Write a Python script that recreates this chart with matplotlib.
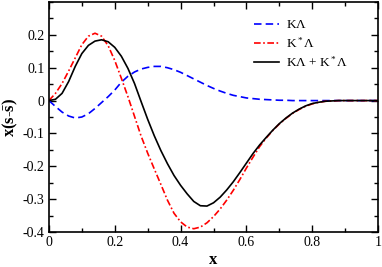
import matplotlib
matplotlib.use("Agg")
import matplotlib.pyplot as plt
from matplotlib.ticker import MultipleLocator

plt.rcParams['font.family'] = ['Liberation Serif', 'DejaVu Serif']
plt.rcParams['mathtext.fontset'] = 'custom'
plt.rcParams['mathtext.rm'] = 'Liberation Serif'
plt.rcParams['mathtext.bf'] = 'Liberation Serif:bold'
plt.rcParams['mathtext.it'] = 'Liberation Serif:italic'

x_vals = [0.00, 0.02, 0.04, 0.06, 0.08, 0.10, 0.12, 0.14, 0.16, 0.18,
          0.20, 0.22, 0.24, 0.26, 0.28, 0.30, 0.32, 0.34, 0.36, 0.38,
          0.40, 0.42, 0.44, 0.46, 0.48, 0.50, 0.52, 0.54, 0.56, 0.58,
          0.60, 0.62, 0.64, 0.66, 0.68, 0.70, 0.72, 0.74, 0.76, 0.78,
          0.80, 0.82, 0.84, 0.86, 0.88, 0.90, 0.95, 1.00]

k_lambda = [0.000, -0.018, -0.035, -0.047, -0.053, -0.050, -0.040, -0.024, -0.006, 0.012,
            0.032, 0.056, 0.074, 0.087, 0.096, 0.101, 0.104, 0.104, 0.100, 0.094,
            0.086, 0.076, 0.066, 0.056, 0.046, 0.037, 0.029, 0.022, 0.016, 0.012,
            0.008, 0.006, 0.004, 0.003, 0.002, 0.001, 0.001, 0.000, 0.000, 0.000,
            0.000, 0.000, 0.000, 0.000, 0.000, 0.000, 0.000, 0.000]

kstar_lambda = [0.000, 0.022, 0.052, 0.090, 0.130, 0.170, 0.196, 0.205, 0.196, 0.167,
                0.122, 0.068, 0.012, -0.048, -0.108, -0.160, -0.208, -0.255, -0.303, -0.343,
                -0.369, -0.385, -0.390, -0.385, -0.372, -0.353, -0.330, -0.303, -0.273, -0.240,
                -0.205, -0.172, -0.140, -0.114, -0.091, -0.071, -0.054, -0.039, -0.027, -0.017,
                -0.010, -0.005, -0.002, -0.001, 0.000, 0.000, 0.000, 0.000]

total = [0.000, 0.004, 0.022, 0.058, 0.104, 0.143, 0.168, 0.181, 0.185, 0.179,
         0.162, 0.135, 0.098, 0.052, -0.003, -0.057, -0.107, -0.152, -0.192, -0.228,
         -0.258, -0.284, -0.307, -0.320, -0.321, -0.311, -0.294, -0.272, -0.247, -0.219,
         -0.190, -0.161, -0.135, -0.112, -0.090, -0.070, -0.053, -0.038, -0.026, -0.016,
         -0.009, -0.005, -0.002, -0.001, 0.000, 0.000, 0.000, 0.000]

labels = [r'K$\Lambda$', r'K$^*\Lambda$', r'K$\Lambda$ + K$^*\Lambda$']

fig = plt.figure(figsize=(3.82, 2.67), dpi=100)
ax = fig.add_axes([0.128, 0.131, 0.862, 0.8615])

ax.plot(x_vals, k_lambda, color='#0000ff', ls=(0, (4.5, 2.5)), lw=1.2, label=labels[0])
ax.plot(x_vals, kstar_lambda, color='#ff0000', ls=(0, (4, 1.5, 1, 1.5)), lw=1.2, label=labels[1])
ax.plot(x_vals, total, color='black', ls='-', lw=1.2, label=labels[2])

ax.set_xlim(0, 1)
ax.set_ylim(-0.4, 0.3)
ax.xaxis.set_minor_locator(MultipleLocator(0.1))
ax.yaxis.set_minor_locator(MultipleLocator(0.05))
ax.set_xticks([0, 0.2, 0.4, 0.6, 0.8, 1.0])
ax.set_xticklabels(['0', '0.2', '0.4', '0.6', '0.8', '1'])
ax.set_yticks([-0.4, -0.3, -0.2, -0.1, 0, 0.1, 0.2])
ax.set_yticklabels(['-0.4', '-0.3', '-0.2', '-0.1', '0', '0.1', '0.2'])
ax.tick_params(which='both', direction='in', top=True, right=True, labelsize=10, width=1.0)
ax.tick_params(which='major', length=5, pad=3)
ax.tick_params(which='minor', length=3)
for s in ax.spines.values():
    s.set_linewidth(1.2)

ax.set_xlabel('x', fontsize=12, fontweight='bold', labelpad=2)
ax.set_ylabel(r'$\mathbf{x(s}$-$\mathbf{\bar{s})}$', fontsize=12, labelpad=2)

ax.legend(loc='upper left', bbox_to_anchor=(0.606, 0.948), frameon=False, fontsize=9.5,
          handlelength=1.9, handletextpad=0.55, labelspacing=0.32, borderaxespad=0)

fig.savefig('out.png', dpi=100)
